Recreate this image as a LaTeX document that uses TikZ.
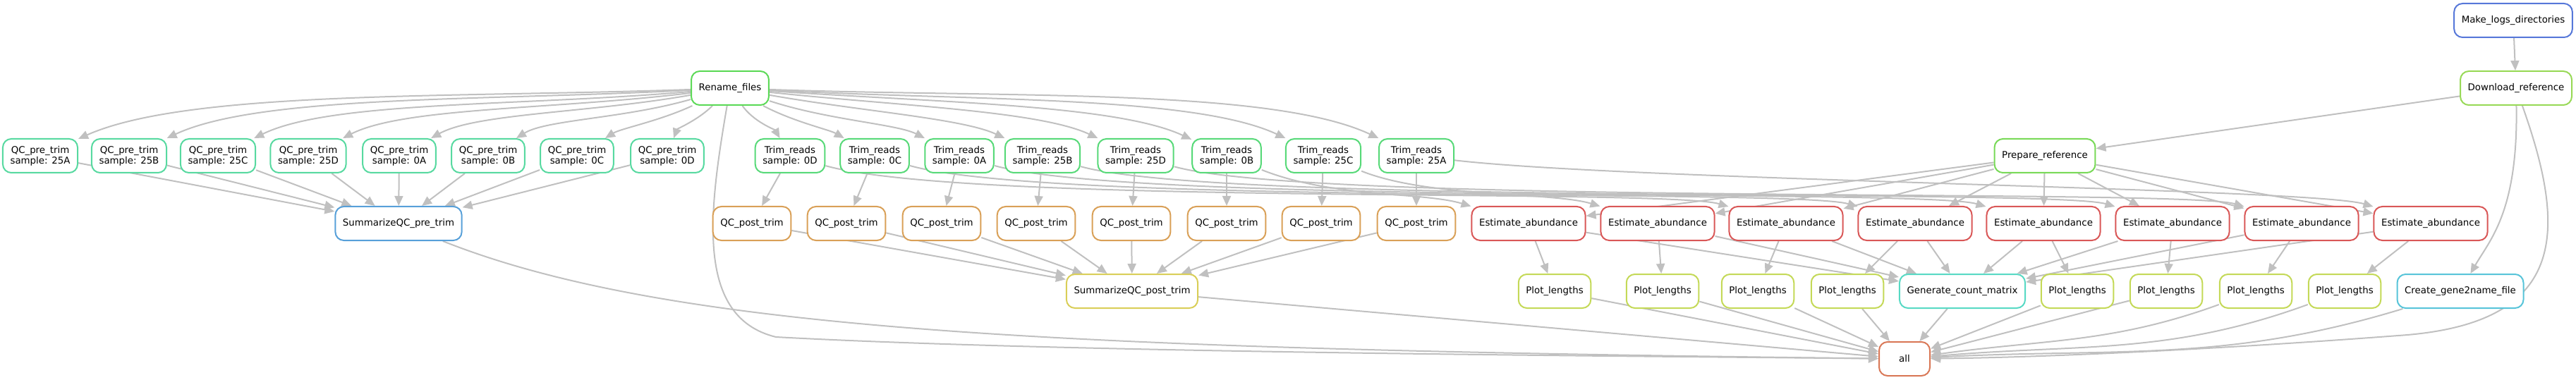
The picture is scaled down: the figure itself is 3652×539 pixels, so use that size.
\documentclass[tikz,border=0pt]{standalone}
\usepackage{fontspec}
\setmainfont{DejaVu Sans}
\usetikzlibrary{arrows.meta,backgrounds}

\definecolor{cmkdir}{RGB}{87,120,217}
\definecolor{cdl}{RGB}{152,217,87}
\definecolor{cren}{RGB}{92,217,87}
\definecolor{cprep}{RGB}{120,217,87}
\definecolor{cqcpre}{RGB}{87,217,160}
\definecolor{ctrim}{RGB}{87,217,120}
\definecolor{csumpre}{RGB}{87,160,217}
\definecolor{cqcpost}{RGB}{217,160,87}
\definecolor{cest}{RGB}{217,87,87}
\definecolor{cplot}{RGB}{196,217,87}
\definecolor{csumpost}{RGB}{217,206,87}
\definecolor{cgcm}{RGB}{87,217,196}
\definecolor{cgtn}{RGB}{87,196,217}
\definecolor{call}{RGB}{217,120,87}
\definecolor{edgegrey}{RGB}{192,192,192}

\newcommand\jobfont{\fontsize{13.4}{15}\selectfont}

\tikzset{
  job/.style={draw=#1,line width=2bp,rounded corners=12bp,fill=white,
    minimum height=48bp,minimum width=72bp,inner xsep=10.6bp,inner ysep=2bp,
    align=center,font=\jobfont},
  edge/.style={draw=edgegrey,line width=2bp,-{Triangle[length=14bp,width=12bp]}},
}

\begin{document}
\begin{tikzpicture}[x=1bp,y=1bp]
\useasboundingbox (0,0) rectangle (3652,-539);

% rules
\node[job=cmkdir] (mkdirs) at (3563,-29) {Make\_logs\_directories};
\node[job=cdl] (dlref) at (3567,-125) {Download\_reference};
\node[job=cren] (renfiles) at (1035,-125) {Rename\_files};
\node[job=cprep] (prepref) at (2899,-221) {Prepare\_reference};
\foreach \s/\x in {25A/57,25B/183,25C/309,25D/437,0A/566,0B/692,0C/818,0D/946}
  \node[job=cqcpre] (qcpre\s) at (\x,-221) {QC\_pre\_trim\\sample: \s};
\foreach \s/\x in {0D/1120,0C/1240,0A/1360,25B/1478,25D/1610,0B/1739,25C/1876,25A/2008}
  \node[job=ctrim] (trim\s) at (\x,-221) {Trim\_reads\\sample: \s};
\node[job=csumpre] (sumpre) at (565,-317) {SummarizeQC\_pre\_trim};
\foreach \s/\x in {0D/1066,0C/1200,0A/1335,25B/1469,25D/1604,0B/1739,25C/1873,25A/2008}
  \node[job=cqcpost] (qcpost\s) at (\x,-317) {QC\_post\_trim};
\foreach \i/\x in {1/2167,2/2350,3/2532,4/2715,5/2897,6/3080,7/3263,8/3446}
  \node[job=cest] (est\i) at (\x,-317) {Estimate\_abundance};
\node[job=csumpost] (sumpost) at (1605,-413) {SummarizeQC\_post\_trim};
\foreach \i/\x in {1/2204,2/2357,3/2492,4/2619,5/2945,6/3071,7/3198,8/3324}
  \node[job=cplot] (plot\i) at (\x,-413) {Plot\_lengths};
\node[job=cgcm] (gcm) at (2782,-413) {Generate\_count\_matrix};
\node[job=cgtn] (gene2name) at (3488,-413) {Create\_gene2name\_file};
\node[job=call] (all) at (2700,-509) {all};

% dependencies
\begin{scope}[on background layer]
\draw[edge] (mkdirs) -- (dlref);
\draw[edge] (dlref) -- (prepref);
\draw[edge] (dlref) .. controls (3570,-300) and (3530,-340) .. (gene2name);
\draw[edge] (dlref) .. controls (3640,-330) and (3640,-460) .. (3400,-476)
  .. controls (3150,-495) and (2900,-507) .. (all);
\foreach \s/\o/\i in {25A/182/24,25B/183/25,25C/185/26,25D/187/27,0A/190/29,0B/196/32,0C/205/32,0D/225/70}
  \draw[edge] (renfiles) to[out=\o,in=\i,in looseness=.5] (qcpre\s);
\foreach \s/\o/\i in {0D/-55/120,0C/-28/150,0A/-18/153,25B/-10/155,25D/-6/155,0B/-4/155,25C/-3/155,25A/-2/155}
  \draw[edge] (renfiles) to[out=\o,in=\i,in looseness=.5] (trim\s);
\draw[edge] (renfiles) .. controls (1005,-300) and (985,-450) .. (1100,-478)
  .. controls (1500,-500) and (2300,-505) .. (all);
\foreach \s in {25A,25B,25C,25D,0A,0B,0C,0D}
  \draw[edge] (qcpre\s) -- (sumpre);
\draw[edge] (sumpre) .. controls (950,-470) and (1500,-495) .. (all);
\foreach \s in {0D,0C,0A,25B,25D,0B,25C,25A}{
  \draw[edge] (trim\s) -- (qcpost\s);
  \draw[edge] (qcpost\s) -- (sumpost);
}
\draw[edge] (sumpost) -- (all);
\draw[edge] (trim0B) .. controls +(150,-60) and +(-150,45) .. (est1);
\draw[edge] (trim25C) .. controls +(150,-60) and +(-150,45) .. (est2);
\draw[edge] (trim0D) .. controls +(250,-70) and +(-170,50) .. (est3);
\draw[edge] (trim0C) .. controls +(250,-70) and +(-170,50) .. (est4);
\draw[edge] (trim0A) .. controls +(250,-70) and +(-170,50) .. (est5);
\draw[edge] (trim25B) .. controls +(250,-70) and +(-170,50) .. (est6);
\draw[edge] (trim25D) .. controls +(250,-70) and +(-170,50) .. (est7);
\draw[edge] (trim25A) .. controls +(300,-35) and +(-170,50) .. (est8);
\foreach \i in {1,...,8}{
  \draw[edge] (prepref) -- (est\i);
  \draw[edge] (est\i) -- (plot\i);
  \draw[edge] (est\i) -- (gcm);
}
\foreach \i in {1,...,6}
  \draw[edge] (plot\i) -- (all);
\draw[edge] (plot7) to[out=200,in=8] (all);
\draw[edge] (plot8) to[out=200,in=5] (all);
\draw[edge] (gcm) -- (all);
\draw[edge] (gene2name) to[out=197,in=3] (all);
\end{scope}
\end{tikzpicture}
\end{document}
